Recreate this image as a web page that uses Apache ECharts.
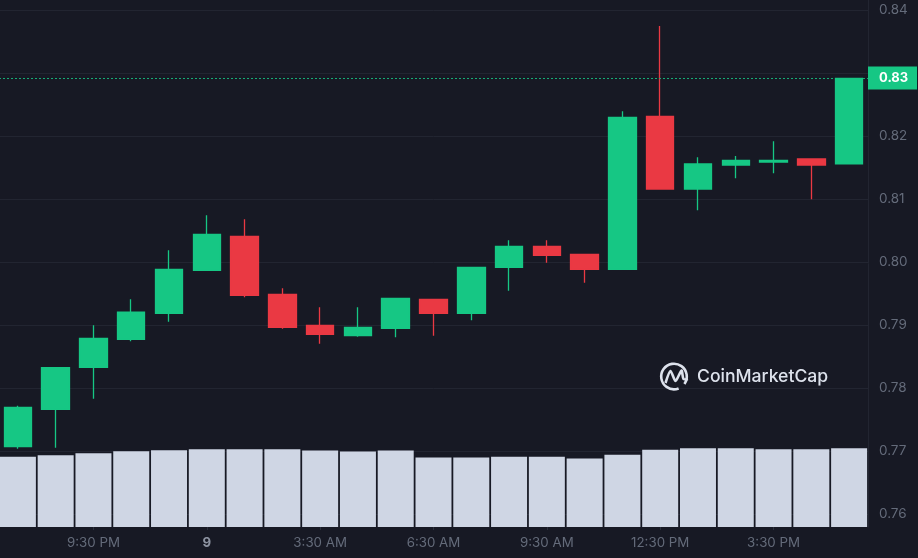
<!DOCTYPE html>
<html><head><meta charset="utf-8">
<style>html,body{margin:0;padding:0;background:#171924}#c{width:918px;height:558px}</style>
<script src="https://cdn.jsdelivr.net/npm/echarts@6/dist/echarts.min.js"></script>
</head><body><div id="c"></div>
<script>
const categories=['7:30 PM','8:30 PM','9:30 PM','10:30 PM','11:30 PM','9','1:30 AM','2:30 AM','3:30 AM','4:30 AM','5:30 AM','6:30 AM','7:30 AM','8:30 AM','9:30 AM','10:30 AM','11:30 AM','12:30 PM','1:30 PM','2:30 PM','3:30 PM','4:30 PM','5:30 PM'];
const opens =[.77068,.77662,.78329,.78773,.79186,.79868,.80408,.79487,.78995,.7883,.78948,.79408,.79186,.79916,.80249,.80122,.79884,.82313,.81159,.8154,.81587,.81635,.81556];
const closes=[.77694,.78322,.78789,.79202,.79884,.8044,.79471,.78963,.78852,.78963,.79424,.79186,.79916,.80249,.80106,.79884,.82297,.81159,.81556,.81614,.81614,.8154,.82916];
const lows  =[.77037,.77052,.7783,.78741,.79052,.79868,.7944,.78941,.78703,.78814,.78805,.7883,.79075,.79544,.79989,.79671,.79884,.81159,.80821,.81329,.81408,.80995,.81556];
const highs =[.77719,.78322,.78995,.79408,.80186,.80741,.80678,.79583,.79281,.79281,.79424,.79408,.79916,.80344,.80344,.80122,.82392,.83746,.81662,.81683,.81916,.81635,.82916];
const volumes=[70.3,71.7,73.7,75.7,76.7,77.7,77.7,77.7,76.5,75.5,76.5,69.5,69.5,70.2,70.2,68.5,72.3,77.3,78.7,78.7,77.7,77.7,78.7];
const lastPrice=0.8292;
const volumeMax=527;
const green='#16c784',red='#ea3943',muted='#646b7a',line='#222531';
const candles=categories.map((_,i)=>[opens[i],closes[i],lows[i],highs[i]]);
const chart=echarts.init(document.getElementById('c'),null,{renderer:'canvas'});
chart.setOption({
  animation:false,
  backgroundColor:'#171924',
  textStyle:{fontFamily:'Inter'},
  grid:[
    {left:-1,right:50,top:-53,bottom:-19,outerBoundsMode:'none'},
    {left:-1,right:50,top:0,bottom:31,outerBoundsMode:'none'}
  ],
  xAxis:[
    {type:'category',gridIndex:0,data:categories,show:false},
    {type:'category',gridIndex:1,data:categories,
     axisLine:{show:false},
     axisTick:{show:true,length:3,alignWithLabel:true,interval:i=>i%3===2,lineStyle:{color:'#2b2f3b'}},
     axisLabel:{interval:i=>i%3===2,margin:9,fontFamily:'Inter',fontSize:13.3,color:muted,
       formatter:v=>v==='9'?'{b|9}':v,
       rich:{b:{fontFamily:'Inter',fontSize:13.3,fontWeight:700,color:'#8d93a1'}}},
     splitLine:{show:false}}
  ],
  yAxis:[
    {type:'value',gridIndex:0,position:'right',min:0.75,max:0.85,interval:0.01,
     axisLine:{show:false},axisTick:{show:false},
     axisLabel:{margin:11,fontFamily:'Inter',fontSize:13.5,color:muted,formatter:v=>v.toFixed(2)},
     splitLine:{show:true,lineStyle:{color:line,width:1}}},
    {type:'value',gridIndex:1,position:'right',min:0,max:volumeMax,
     axisLine:{show:true,lineStyle:{color:line}},axisTick:{show:false},axisLabel:{show:false},splitLine:{show:false}}
  ],
  series:[
    {type:'bar',xAxisIndex:1,yAxisIndex:1,data:volumes,barWidth:36,itemStyle:{color:'#cfd6e4'},z:1},
    {type:'candlestick',xAxisIndex:0,yAxisIndex:0,data:candles,barWidth:28,z:3,
     itemStyle:{color:green,color0:red,borderColor:green,borderColor0:red,borderWidth:1.3},
     markLine:{silent:true,symbol:'none',animation:false,precision:4,
       data:[{yAxis:lastPrice}],
       lineStyle:{color:'rgba(22,199,132,0.85)',type:[2,2],width:1},
       label:{show:true,position:'end',distance:0,formatter:'0.83',
         backgroundColor:green,color:'#fff',fontFamily:'Inter',fontWeight:700,fontSize:13,
         padding:[5,7,5,11],width:31,align:'left'}}}
  ],
  graphic:[
    {type:'arc',silent:true,z:10,shape:{cx:674,cy:376.5,r:12.8,startAngle:0.62,endAngle:1.2,clockwise:false},
     style:{fill:'none',stroke:'#dde2ec',lineWidth:2.6}},
    {type:'polyline',silent:true,z:10,
     shape:{points:[[665.5,383],[670.5,371],[675.5,381],[681.5,370.5],[683.5,379],[688,379]],smooth:0.25},
     style:{fill:'none',stroke:'#dde2ec',lineWidth:2.6,lineJoin:'round'}},
    {type:'text',silent:true,z:10,x:697,y:377,
     style:{text:'CoinMarketCap',fill:'#dde2ec',font:'500 17.6px Inter',textVerticalAlign:'middle',textAlign:'left'}}
  ]
});
</script></body></html>
